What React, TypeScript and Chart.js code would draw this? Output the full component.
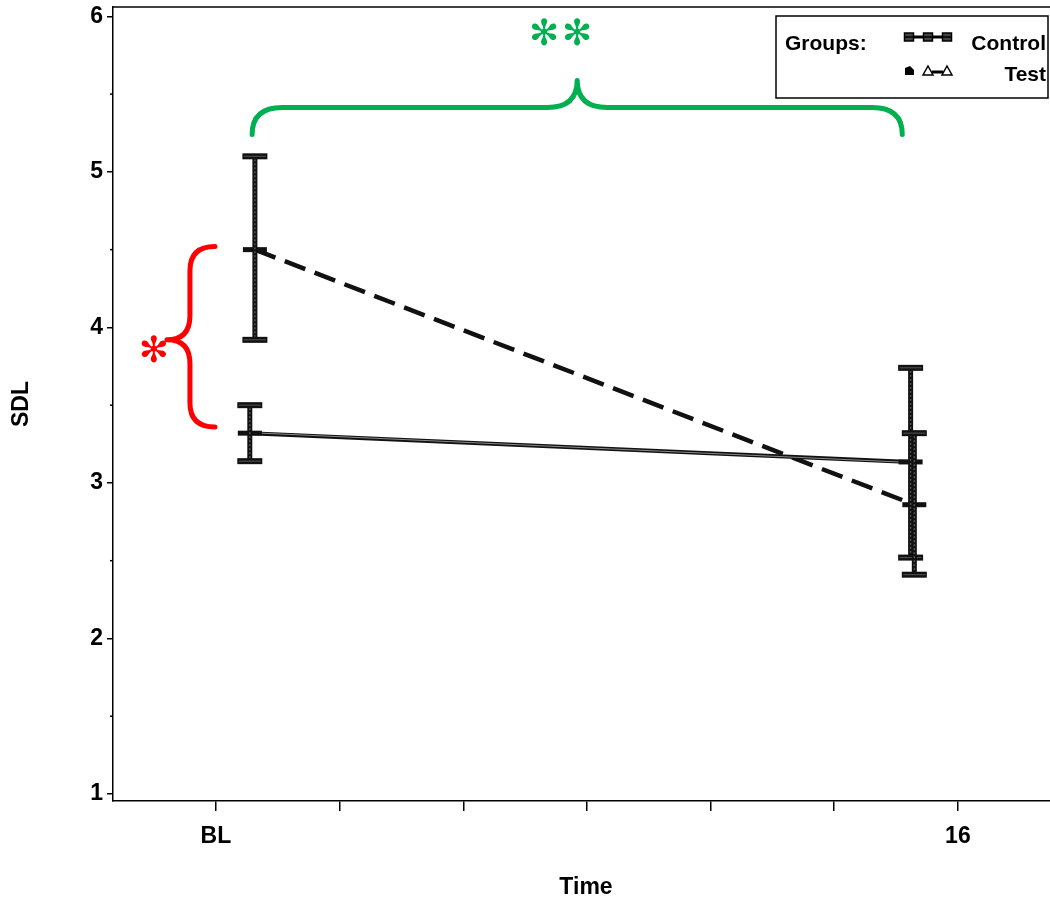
import React, { useEffect, useRef } from 'react';
import { Chart, registerables } from 'chart.js';

Chart.register(...registerables);

// ---- data ----
const timeLabels = ['BL', '16'];
const timeLabelValues = [0, 16];
const timeAxisTicks = [0, 2.667, 5.333, 8, 10.667, 13.333, 16];
const sdlAxisTicks = [1, 2, 3, 4, 5, 6];
const sdlMinorTicks = [1.5, 2.5, 3.5, 4.5, 5.5];

const controlTime = [0.73, 14.98];
const controlMean = [3.32, 3.135];
const controlLower = [3.14, 2.52];
const controlUpper = [3.5, 3.74];

const testTime = [0.84, 15.06];
const testMean = [4.5, 2.86];
const testLower = [3.92, 2.41];
const testUpper = [5.1, 3.32];

// significance brackets (data units)
const redBraceSpan = [3.36, 4.52]; // SDL range compared at BL
const greenBraceSpan = [0.78, 14.8]; // time range compared for Test

const FONT = "'Liberation Sans', Arial, sans-serif";
const RED = '#ff0000';
const GREEN = '#00b050';

function drawErrorBar(ctx: CanvasRenderingContext2D, x: number, yTop: number, yBot: number) {
  ctx.save();
  ctx.fillStyle = '#111';
  ctx.fillRect(x - 2.5, yTop, 5, yBot - yTop);
  ctx.strokeStyle = '#555';
  ctx.lineWidth = 1.5;
  ctx.setLineDash([2, 2]);
  ctx.beginPath();
  ctx.moveTo(x, yTop + 3);
  ctx.lineTo(x, yBot - 3);
  ctx.stroke();
  ctx.setLineDash([]);
  for (const y of [yTop, yBot]) {
    ctx.fillStyle = '#111';
    ctx.fillRect(x - 12.5, y - 3, 25, 6);
    ctx.strokeStyle = '#555';
    ctx.lineWidth = 1;
    ctx.beginPath();
    ctx.moveTo(x - 11, y);
    ctx.lineTo(x + 11, y);
    ctx.stroke();
  }
  ctx.restore();
}

const overlayPlugin = {
  id: 'overlay',
  afterDatasetDraw(chart: any, args: any) {
    // give the solid Control line its double-stroke look
    if (args.index !== 0) return;
    const pts = args.meta.data;
    if (!pts || pts.length < 2) return;
    const ctx: CanvasRenderingContext2D = chart.ctx;
    ctx.save();
    ctx.strokeStyle = '#888';
    ctx.lineWidth = 1;
    ctx.beginPath();
    ctx.moveTo(pts[0].x + 12, pts[0].y);
    for (let i = 1; i < pts.length; i++) ctx.lineTo(pts[i].x - 12, pts[i].y);
    ctx.stroke();
    ctx.restore();
  },
  afterDatasetsDraw(chart: any) {
    const ctx: CanvasRenderingContext2D = chart.ctx;
    const xs = chart.scales.x;
    const ys = chart.scales.y;
    const area = chart.chartArea;

    // top frame line
    ctx.save();
    ctx.strokeStyle = '#000';
    ctx.lineWidth = 1.5;
    ctx.beginPath();
    ctx.moveTo(area.left, area.top);
    ctx.lineTo(area.right, area.top);
    ctx.stroke();

    // minor y ticks
    for (const v of sdlMinorTicks) {
      const py = ys.getPixelForValue(v);
      ctx.beginPath();
      ctx.moveTo(area.left - 3, py);
      ctx.lineTo(area.left, py);
      ctx.stroke();
    }
    ctx.restore();

    // error bars
    for (let i = 0; i < controlTime.length; i++) {
      drawErrorBar(ctx, xs.getPixelForValue(controlTime[i]), ys.getPixelForValue(controlUpper[i]), ys.getPixelForValue(controlLower[i]));
    }
    for (let i = 0; i < testTime.length; i++) {
      drawErrorBar(ctx, xs.getPixelForValue(testTime[i]), ys.getPixelForValue(testUpper[i]), ys.getPixelForValue(testLower[i]));
    }

    // red brace (vertical, opening right)
    {
      const yTop = ys.getPixelForValue(redBraceSpan[1]);
      const yBot = ys.getPixelForValue(redBraceSpan[0]);
      const xEnd = xs.getPixelForValue(0) - 1;
      const xBar = xEnd - 25;
      const xTip = xEnd - 48;
      const yMid = (yTop + yBot) / 2 + 3;
      const r = 24;
      ctx.save();
      ctx.strokeStyle = RED;
      ctx.lineWidth = 5;
      ctx.lineCap = 'round';
      ctx.lineJoin = 'round';
      ctx.beginPath();
      ctx.moveTo(xEnd, yTop);
      ctx.quadraticCurveTo(xBar, yTop, xBar, yTop + r);
      ctx.lineTo(xBar, yMid - r);
      ctx.quadraticCurveTo(xBar, yMid, xTip, yMid);
      ctx.quadraticCurveTo(xBar, yMid, xBar, yMid + r);
      ctx.lineTo(xBar, yBot - r);
      ctx.quadraticCurveTo(xBar, yBot, xEnd, yBot);
      ctx.stroke();
      ctx.fillStyle = RED;
      ctx.font = "36px 'DejaVu Sans'";
      ctx.textAlign = 'center';
      ctx.textBaseline = 'middle';
      ctx.fillText('\u273B', xTip - 13, yMid + 13);
      ctx.restore();
    }

    // green brace (horizontal, opening down)
    {
      const xL = xs.getPixelForValue(greenBraceSpan[0]);
      const xR = xs.getPixelForValue(greenBraceSpan[1]);
      const yEnd = ys.getPixelForValue(5.24);
      const yBar = yEnd - 27;
      const yTip = yEnd - 54;
      const xTip = (xL + xR) / 2;
      const r = 30;
      ctx.save();
      ctx.strokeStyle = GREEN;
      ctx.lineWidth = 5;
      ctx.lineCap = 'round';
      ctx.lineJoin = 'round';
      ctx.beginPath();
      ctx.moveTo(xL, yEnd);
      ctx.quadraticCurveTo(xL, yBar, xL + r, yBar);
      ctx.lineTo(xTip - r, yBar);
      ctx.quadraticCurveTo(xTip, yBar, xTip, yTip);
      ctx.quadraticCurveTo(xTip, yBar, xTip + r, yBar);
      ctx.lineTo(xR - r, yBar);
      ctx.quadraticCurveTo(xR, yBar, xR, yEnd);
      ctx.stroke();
      ctx.fillStyle = GREEN;
      ctx.font = "36px 'DejaVu Sans'";
      ctx.textAlign = 'center';
      ctx.textBaseline = 'middle';
      ctx.fillText('\u273B', xTip - 33, yTip - 45);
      ctx.fillText('\u273B', xTip, yTip - 45);
      ctx.restore();
    }

    // legend
    {
      ctx.save();
      ctx.strokeStyle = '#000';
      ctx.lineWidth = 1.5;
      ctx.fillStyle = '#fff';
      ctx.fillRect(776, 16, 272, 82);
      ctx.strokeRect(776, 16, 272, 82);
      ctx.fillStyle = '#000';
      ctx.font = `bold 21px ${FONT}`;
      ctx.textBaseline = 'alphabetic';
      ctx.textAlign = 'left';
      ctx.fillText('Groups:', 785, 50);
      ctx.textAlign = 'right';
      ctx.fillText('Control', 1046, 50);
      ctx.fillText('Test', 1046, 81);
      // control sample
      ctx.lineWidth = 3;
      ctx.beginPath();
      ctx.moveTo(905, 37);
      ctx.lineTo(952, 37);
      ctx.stroke();
      ctx.lineWidth = 1.5;
      for (const cx of [909, 928, 947]) {
        ctx.fillStyle = '#444';
        ctx.fillRect(cx - 4.5, 33, 9, 8);
        ctx.strokeRect(cx - 4.5, 33, 9, 8);
        ctx.beginPath();
        ctx.moveTo(cx - 4.5, 37);
        ctx.lineTo(cx + 4.5, 37);
        ctx.stroke();
      }
      // test sample
      ctx.fillStyle = '#000';
      ctx.beginPath();
      ctx.moveTo(905, 68);
      ctx.lineTo(910, 66);
      ctx.lineTo(914, 70);
      ctx.lineTo(914, 75);
      ctx.lineTo(905, 75);
      ctx.closePath();
      ctx.fill();
      ctx.lineWidth = 3;
      ctx.beginPath();
      ctx.moveTo(932, 72);
      ctx.lineTo(943, 72);
      ctx.stroke();
      ctx.lineWidth = 1.5;
      for (const cx of [928, 947]) {
        ctx.beginPath();
        ctx.moveTo(cx, 66);
        ctx.lineTo(cx + 5, 75);
        ctx.lineTo(cx - 5, 75);
        ctx.closePath();
        ctx.stroke();
      }
      ctx.restore();
    }
  },
};

export default function App() {
  const ref = useRef<HTMLCanvasElement>(null);
  useEffect(() => {
    if (!ref.current) return;
    const tickFont = { family: FONT, size: 23, weight: 'bold' as const };
    const chart = new Chart(ref.current, {
      type: 'scatter',
      data: {
        datasets: [
          {
            label: 'Control',
            data: controlTime.map((t, i) => ({ x: t, y: controlMean[i] })),
            showLine: true,
            borderColor: '#111',
            borderWidth: 4,
            pointStyle: 'line',
            pointRadius: 12,
            pointBorderWidth: 5,
            pointBorderColor: '#111',
          },
          {
            label: 'Test',
            data: testTime.map((t, i) => ({ x: t, y: testMean[i] })),
            showLine: true,
            borderColor: '#111',
            borderWidth: 4.5,
            borderDash: [22, 10],
            pointStyle: 'line',
            pointRadius: 12,
            pointBorderWidth: 5,
            pointBorderColor: '#111',
          },
        ],
      },
      options: {
        responsive: false,
        animation: false,
        layout: { autoPadding: false, padding: { top: 7, right: 1, left: 0, bottom: 0 } },
        plugins: { legend: { display: false }, tooltip: { enabled: false } },
        scales: {
          x: {
            type: 'linear',
            min: -2.22,
            max: 18.18,
            afterBuildTicks: (s: any) => {
              s.ticks = timeAxisTicks.map((v) => ({ value: v }));
            },
            afterFit: (s: any) => {
              s.height = 102;
              s.paddingLeft = 0;
              s.paddingRight = 0;
            },
            ticks: {
              autoSkip: false,
              maxRotation: 0,
              padding: 12,
              color: '#000',
              font: tickFont,
              callback: (v: any) => {
                const i = timeLabelValues.findIndex((t) => Math.abs(t - Number(v)) < 1e-6);
                return i >= 0 ? timeLabels[i] : '';
              },
            },
            grid: { drawOnChartArea: false, drawTicks: true, tickLength: 10, color: '#000', lineWidth: 1.5 },
            border: { display: true, color: '#000', width: 1.5 },
            title: { display: true, text: 'Time', color: '#000', font: { family: FONT, size: 23, weight: 'bold' }, padding: { top: 0, bottom: 2 } },
          },
          y: {
            type: 'linear',
            min: 0.955,
            max: 6.06,
            afterBuildTicks: (s: any) => {
              s.ticks = sdlAxisTicks.map((v) => ({ value: v }));
            },
            afterFit: (s: any) => {
              s.width = 113;
              s.paddingTop = 0;
              s.paddingBottom = 0;
            },
            ticks: { padding: 4, color: '#000', font: tickFont },
            grid: { drawOnChartArea: false, drawTicks: true, tickLength: 6, color: '#000', lineWidth: 1.5 },
            border: { display: true, color: '#000', width: 1.5 },
            title: { display: true, text: 'SDL', color: '#000', font: { family: FONT, size: 23, weight: 'bold' }, padding: { top: 8, bottom: 0 } },
          },
        },
      },
      plugins: [overlayPlugin],
    } as any);
    return () => chart.destroy();
  }, []);
  return (
    <div style={{ position: 'absolute', left: 0, top: 0, width: 1050, height: 903, overflow: 'hidden', background: '#fff' }}>
      <canvas ref={ref} width={1060} height={903} style={{ display: 'block' }} />
    </div>
  );
}
